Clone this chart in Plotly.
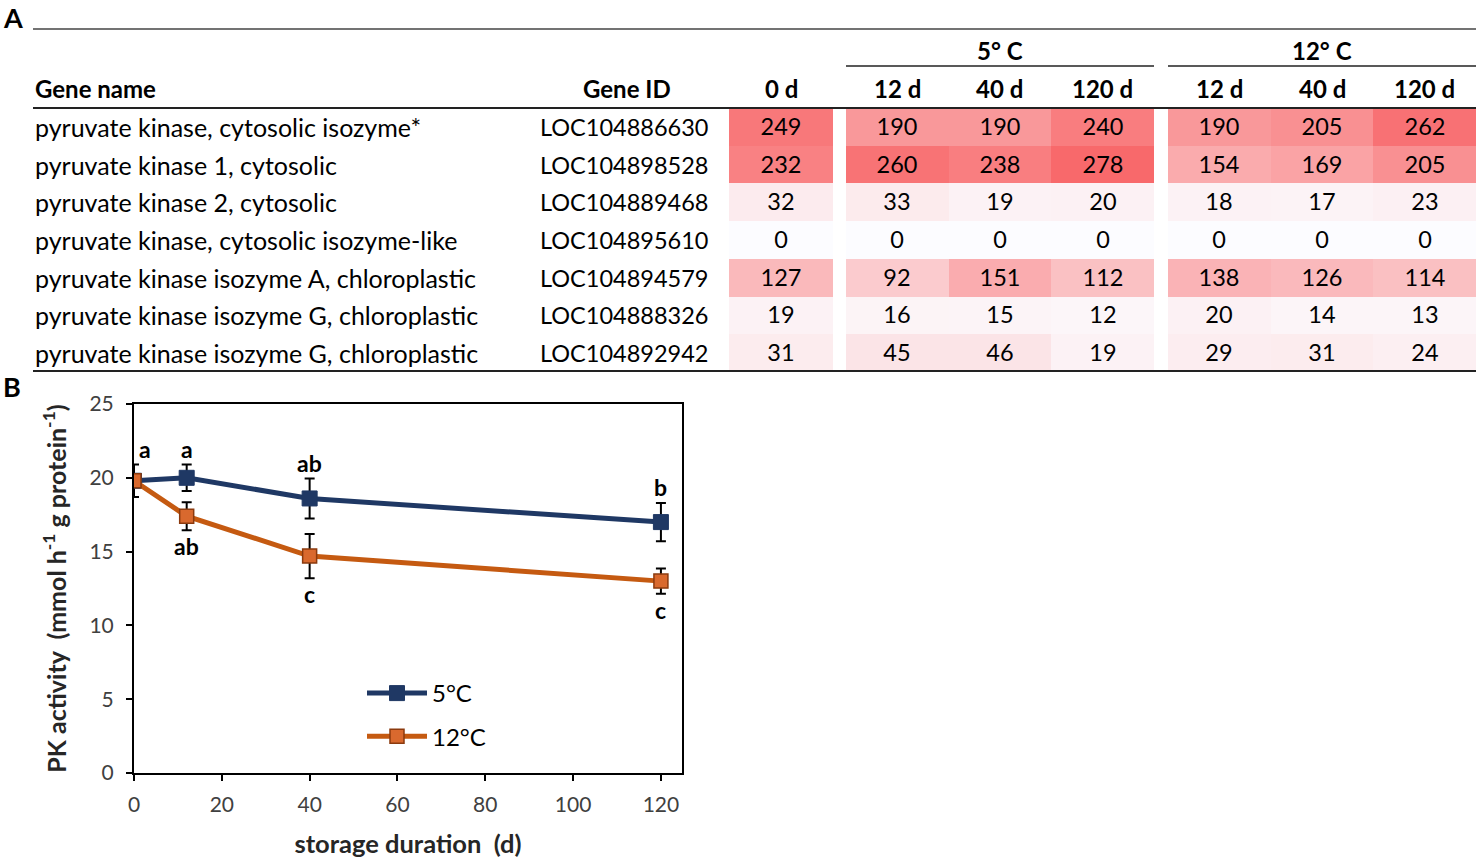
import plotly.graph_objects as go

# ---- panel A data ----
gene_names = [
    'pyruvate kinase, cytosolic isozyme*',
    'pyruvate kinase 1, cytosolic',
    'pyruvate kinase 2, cytosolic',
    'pyruvate kinase, cytosolic isozyme-like',
    'pyruvate kinase isozyme A, chloroplastic',
    'pyruvate kinase isozyme G, chloroplastic',
    'pyruvate kinase isozyme G, chloroplastic',
]
gene_ids = ['LOC104886630', 'LOC104898528', 'LOC104889468', 'LOC104895610',
            'LOC104894579', 'LOC104888326', 'LOC104892942']
day_labels = ['12 d', '40 d', '120 d']
expr_0d = [249, 232, 32, 0, 127, 19, 31]
expr_5c = [
    [190, 190, 240],
    [260, 238, 278],
    [33, 19, 20],
    [0, 0, 0],
    [92, 151, 112],
    [16, 15, 12],
    [45, 46, 19],
]
expr_12c = [
    [190, 205, 262],
    [154, 169, 205],
    [18, 17, 23],
    [0, 0, 0],
    [138, 126, 114],
    [20, 14, 13],
    [29, 31, 24],
]

# ---- panel B data ----
days_5c = [0, 12, 40, 120]
pk_5c = [19.8, 20.0, 18.6, 17.0]
err_5c = [1.1, 0.9, 1.35, 1.3]
days_12c = [0, 12, 40, 120]
pk_12c = [19.8, 17.4, 14.7, 13.0]
err_12c = [0, 0.95, 1.5, 0.85]
letters_5c = ['a', 'a', 'ab', 'b']
letters_12c = ['', 'ab', 'c', 'c']

W, H = 1476, 858
FONT = 'Lato'
BLUE = '#1F3864'
ORANGE = '#C55A11'
scale = [[0, '#FCFCFF'], [1, '#F8696B']]


def px(x):
    return x / W


def py(y):
    return 1 - y / H


fig = go.Figure()

# heatmap cells
rows = list(range(len(gene_names)))
common = dict(colorscale=scale, zmin=0, zmax=278, showscale=False,
              texttemplate='%{z}', textfont=dict(size=23.5, color='black', family=FONT),
              hoverinfo='skip', yaxis='y2')
fig.add_trace(go.Heatmap(z=[[v] for v in expr_0d], x=[0], y=rows, xaxis='x2', **common))
fig.add_trace(go.Heatmap(z=expr_5c, x=[0, 1, 2], y=rows, xaxis='x3', **common))
fig.add_trace(go.Heatmap(z=expr_12c, x=[0, 1, 2], y=rows, xaxis='x4', **common))

# line plot
fig.add_trace(go.Scatter(
    x=days_5c, y=pk_5c, mode='lines+markers', name='5°C', legendgroup='a',
    line=dict(color=BLUE, width=5),
    marker=dict(symbol='square', size=15, color=BLUE, line=dict(color=BLUE, width=1)),
    error_y=dict(type='data', array=err_5c, color='black', thickness=2, width=5),
))
fig.add_trace(go.Scatter(
    x=days_12c, y=pk_12c, mode='lines+markers', name='12°C', legendgroup='b',
    line=dict(color=ORANGE, width=5),
    marker=dict(symbol='square', size=14, color='#D9692E', line=dict(color='#8B3A0E', width=1.5)),
    error_y=dict(type='data', array=err_12c, color='black', thickness=2, width=5),
))

annotations = []
lab = dict(size=23, color='black', family=FONT)
# letters above / below points
for x, y, e, t in zip(days_5c, pk_5c, err_5c, letters_5c):
    if t:
        annotations.append(dict(x=x + (2.5 if x == 0 else 0), y=y + e, xref='x', yref='y',
                                text=f'<b>{t}</b>', showarrow=False, xanchor='center',
                                yanchor='bottom', font=lab))
for x, y, e, t in zip(days_12c, pk_12c, err_12c, letters_12c):
    if t:
        annotations.append(dict(x=x, y=y - e, xref='x', yref='y', text=f'<b>{t}</b>',
                                showarrow=False, xanchor='center', yanchor='top', font=lab))

# table text
name_font = dict(size=25, color='black', family=FONT)
id_font = dict(size=23.5, color='black', family=FONT)
for i, (name, gid) in enumerate(zip(gene_names, gene_ids)):
    annotations.append(dict(x=px(33), y=i, xref='paper', yref='y2', text=name, showarrow=False,
                            xanchor='left', yanchor='middle', font=name_font))
    annotations.append(dict(x=px(624), y=i, xref='paper', yref='y2', text=gid, showarrow=False,
                            xanchor='center', yanchor='middle', font=id_font))
hdr = dict(size=24, color='black', family=FONT)


def header(x, y, text, xref='paper', xanchor='center'):
    annotations.append(dict(x=x, y=y, xref=xref, yref='paper', text=f'<b>{text}</b>',
                            showarrow=False, xanchor=xanchor, yanchor='middle', font=hdr))


header(px(33), py(89), 'Gene name', xanchor='left')
header(px(627), py(89), 'Gene ID')
header(0, py(89), '0 d', xref='x2')
for ax in ['x3', 'x4']:
    for j, d in enumerate(day_labels):
        header(j, py(89), d, xref=ax)
header(0.5, py(50), '5° C', xref='x3 domain')
header(0.5, py(50), '12° C', xref='x4 domain')

# panel labels
for t, yy in [('A', 17), ('B', 386)]:
    annotations.append(dict(x=0.0005, y=py(yy), xref='paper', yref='paper', text=f'<b>{t}</b>',
                            showarrow=False, xanchor='left', yanchor='middle',
                            font=dict(size=27, color='black', family=FONT)))

shapes = [
    dict(type='line', xref='paper', yref='paper', x0=px(33), x1=1, y0=py(29), y1=py(29),
         line=dict(color='#444', width=1.5)),
    dict(type='line', xref='x3 domain', yref='paper', x0=0, x1=1, y0=py(66), y1=py(66),
         line=dict(color='#222', width=1.5)),
    dict(type='line', xref='x4 domain', yref='paper', x0=0, x1=1, y0=py(66), y1=py(66),
         line=dict(color='#222', width=1.5)),
    dict(type='line', xref='paper', yref='paper', x0=px(33), x1=1, y0=py(108), y1=py(108),
         line=dict(color='#222', width=2)),
    dict(type='line', xref='paper', yref='paper', x0=px(33), x1=1, y0=py(371), y1=py(371),
         line=dict(color='#222', width=2)),
]

tick_font = dict(size=21, color='#404040', family=FONT)
hidden = dict(visible=False, automargin=False, fixedrange=True)
fig.update_layout(
    width=W, height=H,
    margin=dict(l=0, r=0, t=0, b=0, pad=0, autoexpand=False),
    paper_bgcolor='white', plot_bgcolor='white',
    font=dict(family=FONT, color='black'),
    annotations=annotations,
    shapes=shapes,
    xaxis=dict(domain=[px(134), px(682)], range=[0, 124.8], tickvals=[0, 20, 40, 60, 80, 100, 120],
               showline=True, linecolor='black', linewidth=2, mirror=True, ticks='outside',
               ticklen=6, tickcolor='black', tickwidth=2, showgrid=False, zeroline=False,
               tickfont=tick_font, automargin=False, ticklabelstandoff=6,
               title=dict(text='<b>storage duration  (d)</b>', font=dict(size=25.5, color='#262626', family=FONT),
                          standoff=24)),
    yaxis=dict(domain=[py(773), py(404)], range=[0, 25], dtick=5,
               showline=True, linecolor='black', linewidth=2, mirror=True, ticks='outside',
               ticklen=6, tickcolor='black', tickwidth=2, showgrid=False, zeroline=False,
               tickfont=tick_font, automargin=False, ticklabelstandoff=8,
               title=dict(text='<b>PK activity  (mmol h<sup>-1</sup> g protein<sup>-1</sup>)</b>',
                          font=dict(size=25, color='#262626', family=FONT), standoff=16)),
    xaxis2=dict(domain=[px(729), px(833)], range=[-0.5, 0.5], anchor='y2', **hidden),
    xaxis3=dict(domain=[px(846), px(1154)], range=[-0.5, 2.5], anchor='y2', **hidden),
    xaxis4=dict(domain=[px(1168), 1], range=[-0.5, 2.5], anchor='y2', **hidden),
    yaxis2=dict(domain=[py(372), py(108)], range=[6.5, -0.5], anchor='x2', **hidden),
    showlegend=True,
    legend=dict(x=px(362), y=py(671), xanchor='left', yanchor='top', bgcolor='rgba(0,0,0,0)',
                font=dict(size=24, color='black', family=FONT), tracegroupgap=9,
                itemwidth=60),
)

# drop the page's default body margin so the figure fills the window exactly
fig.write_html('out.html', config={'displayModeBar': False},
               post_script="document.body.style.margin = '0px';")
